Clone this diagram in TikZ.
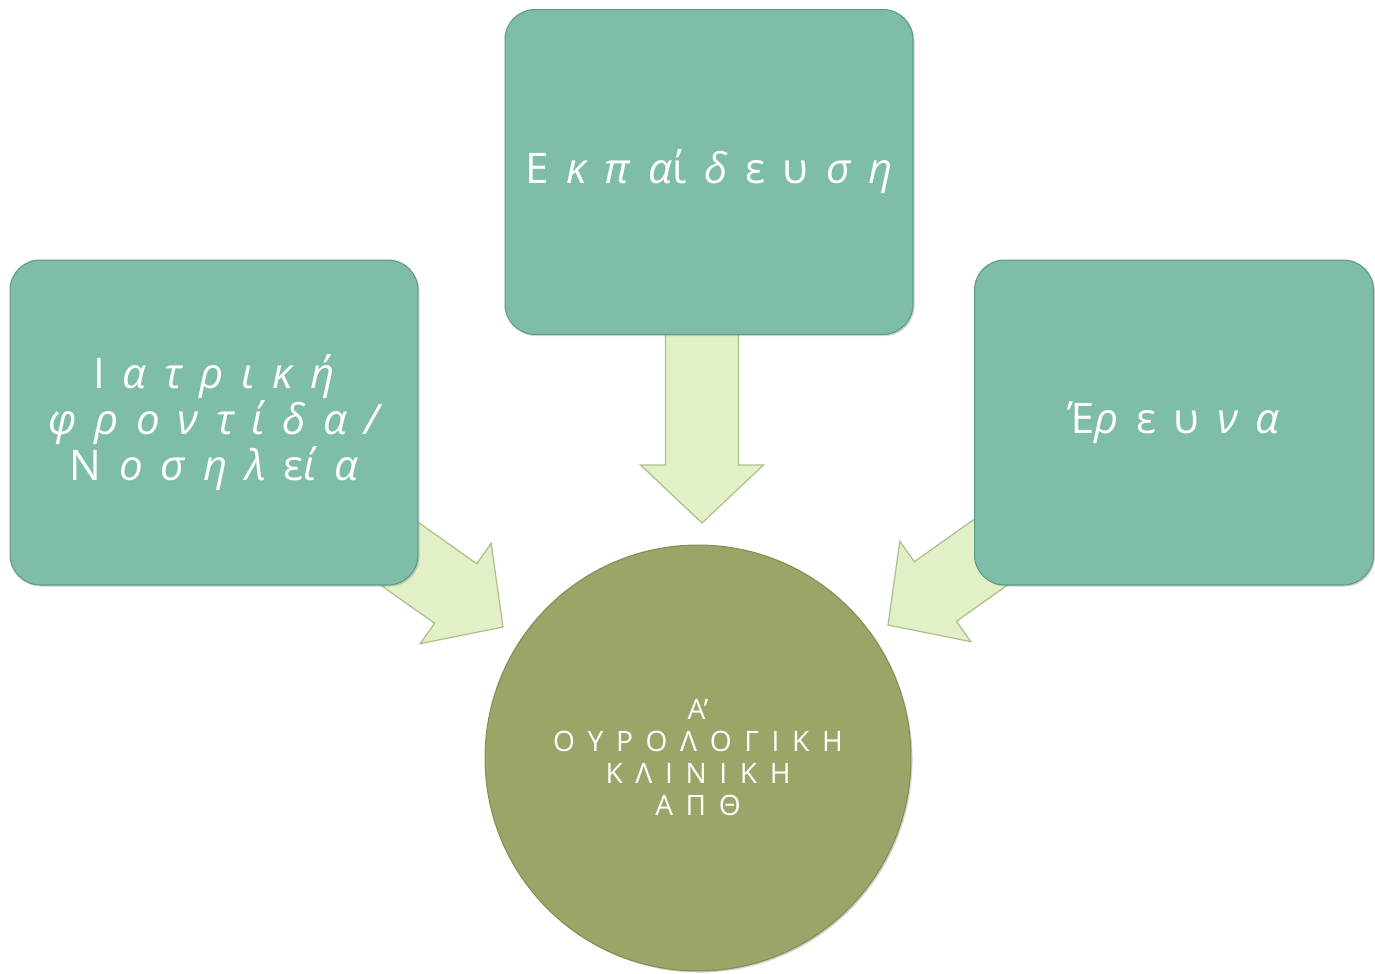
\documentclass[tikz,border=0pt]{standalone}
\usepackage{fontspec}
\setmainfont{Open Sans}
\usetikzlibrary{calc,shadows}
\pgfdeclarelayer{bg}
\pgfsetlayers{bg,main}
\definecolor{boxfill}{HTML}{7EBDA8}
\definecolor{boxedge}{HTML}{5E9A86}
\definecolor{circfill}{HTML}{9CA567}
\definecolor{circedge}{HTML}{848E52}
\definecolor{arrfill}{HTML}{E2F0C7}
\definecolor{arredge}{HTML}{AEBF8C}
\newcommand\boxtextfont{\fontsize{24}{24.5}\selectfont\spaceskip 0.42em\relax}
\newcommand\hubtextfont{\fontsize{16}{18.2}\selectfont\spaceskip 0.45em\relax}
\newcommand\blockarrow[2]{%
  \coordinate (ba-b) at ($(#2)!1.16cm!(#1)$);
  \filldraw[arrowshape] ($(#1)!0.73cm!90:(#2)$) -- ($(ba-b)!0.73cm!90:(#2)$)
    -- ($(ba-b)!1.23cm!90:(#2)$) -- (#2) -- ($(ba-b)!1.23cm!-90:(#2)$)
    -- ($(ba-b)!0.73cm!-90:(#2)$) -- ($(#1)!0.73cm!-90:(#2)$) -- cycle;}
\begin{document}
\begin{tikzpicture}[x=0.02cm,y=-0.02cm,
  topicbox/.style={rectangle, rounded corners=0.6cm, fill=boxfill, draw=boxedge,
    line width=0.6pt, minimum width=8.16cm, minimum height=6.5cm, inner sep=0pt,
    text=white, align=center, font=\boxtextfont,
    drop shadow={shadow xshift=0.9pt, shadow yshift=-0.9pt, opacity=0.35}},
  hubcircle/.style={circle, fill=circfill, draw=circedge, line width=0.6pt,
    minimum size=8.52cm, inner sep=0pt, text=white, align=center,
    font=\hubtextfont,
    drop shadow={shadow xshift=0.9pt, shadow yshift=-0.9pt, opacity=0.35}},
  arrowshape/.style={fill=arrfill, draw=arredge, line width=0.7pt, line join=miter}]
\useasboundingbox (0,0) rectangle (1375,973);

\node[topicbox] (edu) at (709,172) {Ε {\itshape κ π α}ί {\itshape δ} ε υ {\itshape σ η}};
\node[topicbox] (care) at (214,422.5) {Ι {\itshape α τ ρ ι κ ή}\\{\itshape φ ρ ο ν τ ί δ α /}\\Ν {\itshape ο σ η λ} ε{\itshape ί α}};
\node[topicbox, minimum width=7.98cm] (res) at (1174,422.5) {Έ{\itshape ρ} ε υ {\itshape ν α}};
\node[hubcircle] (hub) at (698,758) {Α’\\Ο Υ Ρ Ο Λ Ο Γ Ι Κ Η\\Κ Λ Ι Ν Ι Κ Η\\Α Π Θ};

\coordinate (tipD) at (702,523);
\coordinate (tipL) at (503,627);
\coordinate (tipR) at (888,625);
\coordinate (startD) at (edu.center -| tipD);

\begin{pgfonlayer}{bg}
  \blockarrow{startD}{tipD}
  \blockarrow{care.center}{tipL}
  \blockarrow{res.center}{tipR}
\end{pgfonlayer}
\end{tikzpicture}
\end{document}
